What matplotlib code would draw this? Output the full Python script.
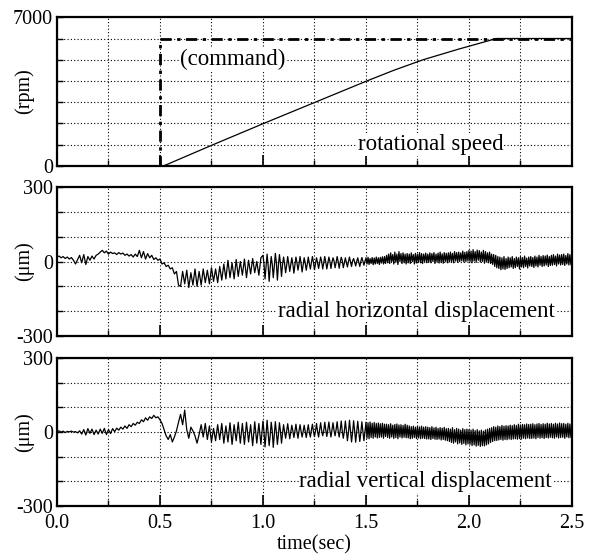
import matplotlib
matplotlib.use("Agg")
import matplotlib.pyplot as plt
from matplotlib.ticker import MultipleLocator, FixedLocator
import numpy as np

plt.rcParams["font.family"] = ["Liberation Serif", "DejaVu Serif"]
plt.rcParams["axes.unicode_minus"] = False

# ------------------ datos ------------------
# velocidad de rotacion (rpm)
t_speed = [0.0, 0.52, 0.76, 1.005, 1.255, 1.505, 1.635, 1.778, 1.95, 2.134, 2.5]
rpm_speed = [0, 0, 1000, 2000, 3000, 4000, 4500, 5000, 5500, 6000, 6000]
t_cmd = [0.0, 0.5, 0.5, 2.5]
rpm_cmd = [0, 0, 6000, 6000]

# desplazamiento radial horizontal (um), 0-0.99 s cada 0.01 s
horiz_slow = [
    18, 22, 15, 20, 12, 18, 10, 16, 5, -10,
    8, 25, -5, 28, -12, 20, 5, 22, 10, 25,
    30, 38, 45, 35, 42, 30, 38, 32, 35, 28,
    36, 30, 34, 25, 30, 22, 28, 18, 30, 20,
    45, 15, 40, 10, 32, 15, 25, 8, 15, 5,
    10, -10, -5, -20, -15, -30, -25, -50, -40, -95,
    -100, -40, -90, -35, -105, -45, -95, -30, -100, -40,
    -95, -30, -85, -35, -90, -25, -80, -30, -85, -20,
    -75, -10, -70, 5, -65, -5, -70, 8, -60, 0,
    -55, 10, -65, 5, -50, 12, -45, 0, -55, 15,
]
# 1.0-2.5 s cada 0.005 s
horiz_fast = [
    25, -10, -70, -20, 30, -15, -80, -25, 20, -10, -65, -20, 33, -5, -75, -15, 28, -8, -60, -12,
    18, -10, -45, -15, 20, -8, -40, -12, 15, -10, -47, -15, 18, -5, -35, -10, 20, -8, -42, -12,
    15, -5, -35, -10, 18, -8, -30, -5, 20, -3, -33, -8, 15, -5, -28, -5, 18, 0, -30, -6,
    20, -3, -30, -5, 18, 0, -28, -3, 15, 2, -25, -5, 20, 0, -27, -2, 17, 3, -25, -5,
    15, -5, -22, 0, 18, -3, -20, 2, 12, -2, -18, 0, 15, -3, -20, 0, 16, 2, -15, 0,
    15, -10, 17, -12, 12, -8, 16, -13, 14, -10, 18, -8, 15, -12, 17, -6, 19, -10, 20, -8,
    25, -5, 30, -8, 35, 0, 28, -10, 38, -3, 30, -12, 40, 0, 32, -8, 35, -5, 30, -10,
    32, -5, 30, -8, 35, 0, 28, -10, 33, -6, 30, -3, 36, -5, 32, -8, 30, 0, 34, -5,
    30, -3, 35, -5, 32, 0, 36, -8, 30, -2, 34, -6, 38, -4, 31, -7, 36, 0, 33, -5,
    35, -2, 38, 0, 33, -5, 40, 2, 36, -3, 38, 0, 35, 3, 42, -2, 37, 0, 40, 2,
    45, 0, 42, -5, 48, 2, 40, -3, 46, 5, 44, -2, 38, 0, 45, -7, 40, -2, 35, -5,
    38, -8, 30, -12, 28, -20, 25, -25, 20, -28, 18, -33, 15, -30, 20, -32, 12, -28, 18, -25,
    15, -22, 20, -28, 12, -25, 18, -20, 15, -30, 20, -22, 16, -25, 22, -20, 14, -26, 18, -18,
    20, -20, 16, -24, 22, -18, 18, -22, 25, -15, 20, -20, 24, -18, 22, -14, 26, -20, 20, -16,
    25, -15, 28, -12, 22, -18, 30, -10, 26, -14, 28, -12, 30, -16, 24, -10, 32, -14, 28, -12, 20,
]

# desplazamiento radial vertical (um)
vert_slow = [
    2, 5, 0, 4, -2, 3, 1, 4, 0, 2,
    -3, 5, -8, 10, -12, 14, -5, 12, -10, 8,
    -8, 12, -5, 15, -10, 10, -6, 14, 2, 16,
    8, 20, 12, 25, 15, 30, 22, 35, 28, 40,
    35, 50, 42, 58, 48, 62, 55, 68, 58, 62,
    50, 35, 10, -15, -30, -10, -40, -20, 5, 40,
    72, 30, 89, 10, -25, 20, 5, -15, -45, -10,
    30, -20, 35, -30, 25, -40, 15, -35, 30, -30,
    35, -45, 25, -40, 38, -50, 30, -35, 40, -45,
    35, -50, 40, -40, 30, -55, 42, -45, 35, -50,
]
vert_fast = [
    45, 0, -60, -10, 48, -5, -55, -15, 40, 5, -62, -8, 42, 0, -50, -10, 38, 2, -45, -5,
    30, 0, -25, 5, 34, 2, -27, 0, 28, 5, -22, 3, 32, 0, -25, 5, 30, 3, -20, 2,
    28, 2, -22, 5, 30, 0, -20, 8, 32, 3, -18, 5, 35, 2, -20, 8, 38, 5, -15, 6,
    40, 8, -18, 10, 41, 5, -20, 8, 38, 6, -15, 10, 42, 5, -20, 8, 45, 3, -25, 5,
    45, 3, -35, 0, 48, 2, -40, -3, 46, 5, -41, 0, 44, 2, -38, -2, 42, 3, -35, 0,
    40, -25, 38, -27, 41, -22, 36, -25, 39, -20, 35, -24, 37, -22, 34, -20, 36, -25, 32, -18,
    32, -22, 30, -25, 34, -20, 28, -26, 31, -22, 33, -27, 29, -20, 30, -24, 27, -21, 32, -23,
    28, -24, 25, -27, 22, -25, 24, -22, 20, -26, 23, -24, 21, -27, 24, -25, 20, -26, 22, -28,
    20, -28, 18, -30, 22, -26, 17, -29, 20, -30, 15, -28, 18, -32, 16, -30, 19, -33, 14, -35,
    15, -38, 12, -42, 18, -45, 10, -40, 15, -48, 12, -44, 8, -50, 14, -46, 10, -52, 12, -48,
    10, -50, 8, -55, 12, -52, 6, -57, 10, -54, 5, -58, 8, -55, 4, -56, 9, -52, 12, -48,
    15, -42, 18, -38, 22, -35, 20, -34, 25, -32, 22, -30, 27, -33, 24, -30, 26, -31, 25, -28,
    28, -30, 26, -28, 30, -27, 27, -29, 32, -26, 29, -28, 31, -25, 30, -27, 33, -24, 31, -26,
    32, -26, 34, -24, 30, -27, 33, -22, 35, -25, 31, -23, 34, -26, 32, -22, 36, -24, 33, -21,
    35, -23, 32, -25, 36, -20, 33, -24, 37, -22, 34, -21, 35, -25, 32, -20, 36, -23, 33, -22, 30,
]

x_ticks = [0.0, 0.5, 1.0, 1.5, 2.0, 2.5]
x_ticklabels = ["0.0", "0.5", "1.0", "1.5", "2.0", "2.5"]

# ------------------ tiempos de muestreo ------------------
t_h = np.concatenate([0.01 * np.arange(len(horiz_slow)), 1.0 + 0.005 * np.arange(len(horiz_fast))])
y_h = np.array(horiz_slow + horiz_fast)
t_v = np.concatenate([0.01 * np.arange(len(vert_slow)), 1.0 + 0.005 * np.arange(len(vert_fast))])
y_v = np.array(vert_slow + vert_fast)

# ------------------ figura ------------------
fig = plt.figure(figsize=(5.91, 5.60), dpi=100)
L, W = 0.0964, 0.8714
ax1 = fig.add_axes([L, 0.7041, W, 0.265])
ax2 = fig.add_axes([L, 0.400, W, 0.266])
ax3 = fig.add_axes([L, 0.0964, W, 0.264])

FS_TICK = 14.5
FS_TXT = 16.5
grid_kw = dict(color="black", linestyle=(0, (1, 2)), linewidth=0.8)
box = dict(facecolor="white", edgecolor="none", pad=0.5)


def estilo(ax, ymin, ymax, ylabs, ystep, ylabel):
    ax.set_xlim(0, 2.5)
    ax.set_ylim(ymin, ymax)
    ax.xaxis.set_major_locator(FixedLocator(x_ticks))
    ax.xaxis.set_minor_locator(MultipleLocator(0.25))
    ax.yaxis.set_major_locator(FixedLocator(ylabs))
    ax.yaxis.set_minor_locator(MultipleLocator(ystep))
    ax.grid(True, which="both", **grid_kw)
    ax.tick_params(axis="x", which="major", direction="in", length=8, width=1.2,
                   top=False, labelsize=FS_TICK, pad=6)
    ax.tick_params(axis="x", which="minor", direction="in", length=4, width=1.0, top=False)
    ax.tick_params(axis="y", which="both", direction="in", length=4, width=1.0,
                   right=False, labelsize=FS_TICK, pad=3)
    for s in ax.spines.values():
        s.set_linewidth(1.6)
    ax.set_ylabel(ylabel, fontsize=FS_TICK)
    ax.yaxis.set_label_coords(-0.045, 0.5)
    ax.set_axisbelow(True)


# panel superior: velocidad
estilo(ax1, 0, 7000, [0, 7000], 1000, "(rpm)")
ax1.plot(t_cmd, rpm_cmd, color="black", linewidth=2.0, linestyle=(0, (4, 2, 1.2, 2)), zorder=3)
ax1.plot(t_speed, rpm_speed, color="black", linewidth=0.9, zorder=4)
ax1.text(0.855, 5000, "(command)", fontsize=FS_TXT, ha="center", va="center", bbox=box, zorder=5)
ax1.text(1.815, 1000, "rotational speed", fontsize=FS_TXT, ha="center", va="center", bbox=box, zorder=5)
ax1.set_xticklabels([])

# panel medio: horizontal
estilo(ax2, -300, 300, [-300, 0, 300], 100, "(μm)")
ax2.plot(t_h, y_h, color="black", linewidth=0.9, zorder=4)
ax2.text(1.745, -200, "radial horizontal displacement", fontsize=FS_TXT, ha="center", va="center",
         bbox=box, zorder=5)
ax2.set_xticklabels([])

# panel inferior: vertical
estilo(ax3, -300, 300, [-300, 0, 300], 100, "(μm)")
ax3.plot(t_v, y_v, color="black", linewidth=0.9, zorder=4)
ax3.text(1.79, -200, "radial vertical displacement", fontsize=FS_TXT, ha="center", va="center",
         bbox=box, zorder=5)
ax3.set_xticklabels(x_ticklabels)
ax3.set_xlabel("time(sec)", fontsize=FS_TICK, labelpad=1)

fig.savefig("out.png", dpi=100)
